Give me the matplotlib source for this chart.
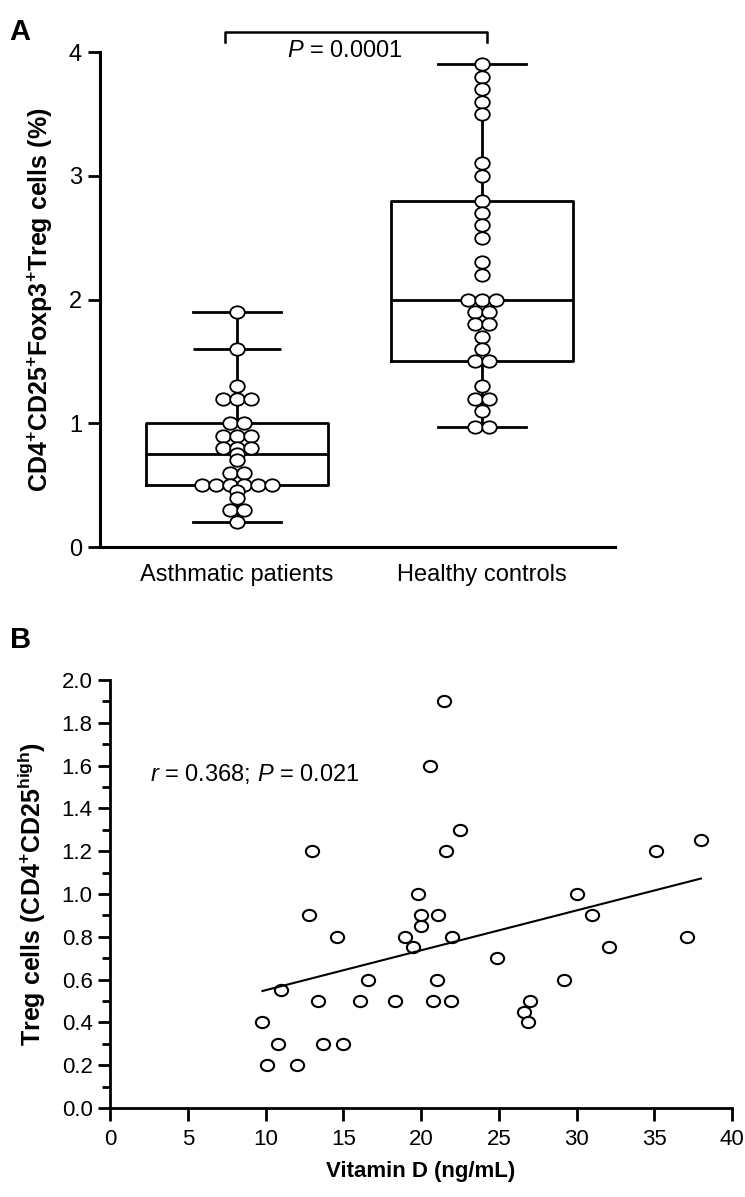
import numpy as np
import matplotlib
matplotlib.use('Agg')
import matplotlib.pyplot as plt
from matplotlib.path import Path
from matplotlib.transforms import Affine2D

plt.rcParams['font.family'] = ['Liberation Sans', 'DejaVu Sans']
plt.rcParams['mathtext.fontset'] = 'custom'
plt.rcParams['mathtext.rm'] = 'Liberation Sans'
plt.rcParams['mathtext.it'] = 'Liberation Sans:italic'
plt.rcParams['mathtext.bf'] = 'Liberation Sans:bold'

### Panel A data
groups = ['Asthmatic patients', 'Healthy controls']
asthma = [1.9, 1.6, 1.3, 1.2, 1.2, 1.2, 1.0, 1.0, 0.9, 0.9, 0.9, 0.8, 0.8, 0.8,
          0.75, 0.7, 0.6, 0.6, 0.5, 0.5, 0.5, 0.5, 0.5, 0.5, 0.45, 0.4, 0.3, 0.3, 0.2]
healthy = [3.9, 3.8, 3.7, 3.6, 3.5, 3.1, 3.0, 2.8, 2.7, 2.6, 2.5, 2.3, 2.2,
           2.0, 2.0, 2.0, 1.9, 1.9, 1.8, 1.8, 1.7, 1.6, 1.5, 1.5, 1.3, 1.2, 1.2,
           1.1, 0.97, 0.97]
# box stats: whisker low, Q1, median, Q3, whisker high
box_low = [0.2, 0.97]
box_q1 = [0.5, 1.5]
box_med = [0.75, 2.0]
box_q3 = [1.0, 2.8]
box_high = [1.9, 3.9]
extra_cap = [1.6, None]
p_text_a = '$\\mathit{P}$ = 0.0001'

### Panel B data
vit_d = [9.8, 10.1, 10.8, 11.0, 12.0, 12.8, 13.0, 13.4, 13.7, 14.6, 15.0, 16.1,
         16.6, 18.3, 19.0, 19.5, 19.8, 20.0, 20.0, 20.6, 20.8, 21.0, 21.1, 21.5,
         21.6, 21.9, 22.0, 22.5, 24.9, 26.6, 26.9, 27.0, 29.2, 30.0, 31.0, 32.1,
         35.1, 37.1, 38.0]
treg = [0.40, 0.20, 0.30, 0.55, 0.20, 0.90, 1.20, 0.50, 0.30, 0.80, 0.30, 0.50,
        0.60, 0.50, 0.80, 0.75, 1.00, 0.90, 0.85, 1.60, 0.50, 0.60, 0.90, 1.90,
        1.20, 0.50, 0.80, 1.30, 0.70, 0.45, 0.40, 0.50, 0.60, 1.00, 0.90, 0.75,
        1.20, 0.80, 1.25]
r_text = '$\\mathit{r}$ = 0.368; $\\mathit{P}$ = 0.021'

# slightly flattened circle marker, as in the figure
oval = Path.unit_circle().transformed(Affine2D().scale(1.0, 0.85))

fig = plt.figure(figsize=(7.45, 11.97), dpi=100)

### Panel A
ax = fig.add_axes([0.1342, 0.5430, 0.6913, 0.4135])
stats = []
for i in range(2):
    stats.append(dict(whislo=box_low[i], q1=box_q1[i], med=box_med[i],
                      q3=box_q3[i], whishi=box_high[i], fliers=[]))
ax.bxp(stats, positions=[1, 2], widths=0.74, showfliers=False,
       boxprops=dict(color='black', linewidth=2),
       medianprops=dict(color='black', linewidth=2),
       whiskerprops=dict(color='black', linewidth=2),
       capprops=dict(color='black', linewidth=2), capwidths=0.36)
for i, c in enumerate(extra_cap):
    if c is not None:
        ax.hlines(c, i + 1 - 0.18, i + 1 + 0.18, color='black', linewidth=2)

step = 0.057
for pos, vals in zip([1, 2], [asthma, healthy]):
    vals = np.array(vals)
    xs = np.zeros(len(vals))
    for v in np.unique(vals):
        idx = np.where(vals == v)[0]
        n = len(idx)
        xs[idx] = pos + (np.arange(n) - (n - 1) / 2) * step
    ax.plot(xs, vals, linestyle='none', marker=oval, ms=10.5,
            mfc='white', mec='black', mew=1.3, zorder=5)

ax.set_xlim(0.441, 2.543)
ax.set_ylim(0, 4)
ax.set_yticks([0, 1, 2, 3, 4])
ax.set_xticks([1, 2])
ax.set_xticklabels(groups)
ax.tick_params(axis='x', length=0, pad=12, labelsize=17)
ax.tick_params(axis='y', length=9, width=2, pad=4, labelsize=17)
for s in ['top', 'right']:
    ax.spines[s].set_visible(False)
for s in ['left', 'bottom']:
    ax.spines[s].set_linewidth(2.2)
ax.set_ylabel('CD4$^{\\mathbf{+}}$CD25$^{\\mathbf{+}}$Foxp3$^{\\mathbf{+}}$Treg cells (%)',
              fontsize=18, fontweight='bold', labelpad=10)

# significance bracket
ax.plot([0.95, 0.95, 2.02, 2.02], [4.08, 4.16, 4.16, 4.08], color='black',
        linewidth=1.8, clip_on=False)
ax.text(1.44, 4.01, p_text_a, ha='center', va='center', fontsize=17)

fig.text(0.013, 0.985, 'A', fontsize=21, fontweight='bold', va='top')

### Panel B
bx = fig.add_axes([0.1477, 0.0744, 0.8349, 0.3576])
bx.plot(vit_d, treg, linestyle='none', marker=oval, ms=9.5,
        mfc='white', mec='black', mew=1.5)
slope, icpt = np.polyfit(vit_d, treg, 1)
xl = np.array([min(vit_d), max(vit_d)])
bx.plot(xl, slope * xl + icpt, color='black', linewidth=1.5)

bx.set_xlim(0, 40)
bx.set_ylim(0, 2.0)
bx.set_xticks(np.arange(0, 41, 5))
bx.set_yticks(np.arange(0, 2.01, 0.2))
bx.set_yticklabels(['%.1f' % t for t in np.arange(0, 2.01, 0.2)])
bx.set_yticks(np.arange(0.1, 2.0, 0.2), minor=True)
bx.tick_params(axis='both', which='major', length=9, width=2, labelsize=16)
bx.tick_params(axis='x', which='major', pad=6)
bx.tick_params(axis='y', which='minor', length=6, width=2)
for s in ['top', 'right']:
    bx.spines[s].set_visible(False)
for s in ['left', 'bottom']:
    bx.spines[s].set_linewidth(2)
bx.set_xlabel('Vitamin D (ng/mL)', fontsize=16, fontweight='bold', labelpad=8)
bx.set_ylabel('Treg cells (CD4$^{\\mathbf{+}}$CD25$^{\\mathbf{high}}$)',
              fontsize=18, fontweight='bold', labelpad=10)
bx.text(2.6, 1.56, r_text, fontsize=17, va='center')

fig.text(0.013, 0.477, 'B', fontsize=21, fontweight='bold', va='top')

fig.savefig('out.png', dpi=100)
